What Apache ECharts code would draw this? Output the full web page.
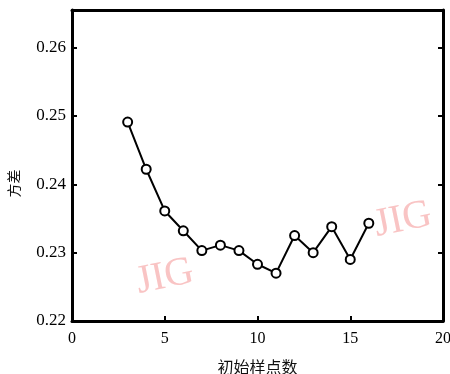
<!DOCTYPE html>
<html style="height: 100%">
<head>
	<meta charset="utf-8">
</head>
<body style="height: 100%; margin: 0; background: #fff">
<div id="container" style="width: 450px; height: 374px"></div>
<script type="text/javascript" src="https://cdn.jsdelivr.net/npm/echarts@6/dist/echarts.min.js"></script>
<script type="text/javascript">
    // 初始样点数 vs 方差
    var xValues = [3, 4, 5, 6, 7, 8, 9, 10, 11, 12, 13, 14, 15, 16];
    var variance = [0.2491, 0.2422, 0.2361, 0.2332, 0.2303, 0.2311, 0.2303, 0.2283, 0.2270, 0.2325, 0.2300, 0.2338, 0.2290, 0.2343];
    var xTicks = [0, 5, 10, 15, 20];
    var yTicks = [0.22, 0.23, 0.24, 0.25, 0.26];

    var dom = document.getElementById("container");
    var myChart = echarts.init(dom);

    var points = xValues.map(function (x, i) { return [x, variance[i]]; });
    var labelFont = 'Liberation Serif';

    var option = {
        backgroundColor: '#ffffff',
        animation: false,
        grid: {
            left: 72,
            right: 7,
            top: 10,
            bottom: 53,
            outerBoundsMode: 'none'
        },
        xAxis: [{
            type: 'value',
            min: xTicks[0],
            max: xTicks[xTicks.length - 1],
            interval: 5,
            name: '初始样点数',
            nameLocation: 'middle',
            nameGap: 38,
            nameTextStyle: { color: '#111', fontSize: 16, fontFamily: 'Noto Sans CJK SC' },
            axisLine: { onZero: false, lineStyle: { color: '#000', width: 3 } },
            axisTick: { inside: true, length: 5, lineStyle: { color: '#000', width: 2 } },
            axisLabel: { color: '#000', fontSize: 16, fontFamily: labelFont, margin: 10 },
            splitLine: { show: false }
        }, {
            type: 'value',
            position: 'top',
            min: 0,
            max: 20,
            axisLine: { show: true, onZero: false, lineStyle: { color: '#000', width: 3 } },
            axisTick: { show: false },
            axisLabel: { show: false },
            splitLine: { show: false }
        }],
        yAxis: [{
            type: 'value',
            min: yTicks[0],
            max: 0.2655,
            interval: 0.01,
            name: '方差',
            nameLocation: 'middle',
            nameGap: 51,
            nameRotate: 90,
            nameTextStyle: { color: '#111', fontSize: 14, fontFamily: 'Noto Sans CJK SC', padding: [0, 36, 0, 0] },
            axisLine: { onZero: false, lineStyle: { color: '#000', width: 3 } },
            axisTick: { inside: true, length: 5, lineStyle: { color: '#000', width: 2 } },
            axisLabel: {
                color: '#000', fontSize: 17, fontFamily: labelFont, margin: 6,
                showMaxLabel: false,
                formatter: function (v) { return v.toFixed(2); }
            },
            splitLine: { show: false }
        }, {
            type: 'value',
            position: 'right',
            min: yTicks[0],
            max: 0.2655,
            interval: 0.01,
            axisLine: { show: true, onZero: false, lineStyle: { color: '#000', width: 3 } },
            axisTick: { inside: true, length: 5, lineStyle: { color: '#000', width: 2 } },
            axisLabel: { show: false },
            splitLine: { show: false }
        }],
        graphic: [{
            type: 'text',
            x: 165, y: 277,
            rotation: 0.2,
            style: {
                text: 'JIG', fill: '#f9c4c4',
                font: '40px "Liberation Serif"',
                align: 'center', verticalAlign: 'middle'
            },
            z: 0
        }, {
            type: 'text',
            x: 403, y: 220,
            rotation: 0.2,
            style: {
                text: 'JIG', fill: '#f9c4c4',
                font: '40px "Liberation Serif"',
                align: 'center', verticalAlign: 'middle'
            },
            z: 0
        }],
        series: [{
            type: 'line',
            data: points,
            symbol: 'circle',
            symbolSize: 9,
            lineStyle: { color: '#000', width: 2 },
            itemStyle: { color: '#fff', borderColor: '#000', borderWidth: 2 },
            z: 10
        }]
    };

    myChart.setOption(option, true);
</script>
</body>
</html>
